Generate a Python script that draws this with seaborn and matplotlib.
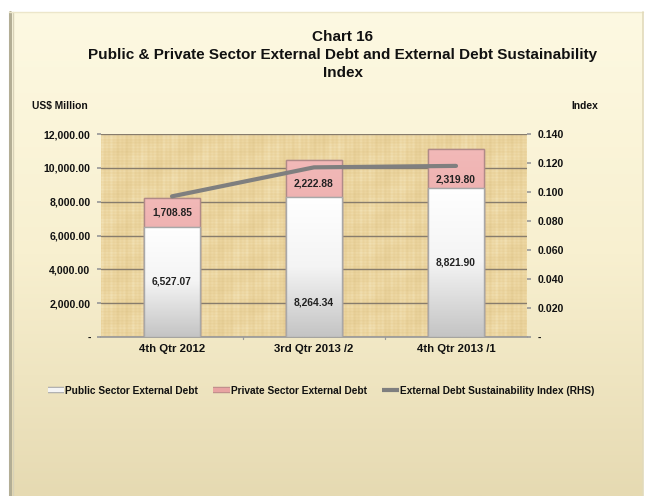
import numpy as np
import pandas as pd
import matplotlib
matplotlib.use("Agg")
import matplotlib.pyplot as plt
import matplotlib.patheffects as pe
from matplotlib.colors import LinearSegmentedColormap
from matplotlib.lines import Line2D
from matplotlib.ticker import FuncFormatter, FixedLocator
import seaborn as sns

# ---- data ----
quarters = ["4th Qtr 2012", "3rd Qtr 2013 /2", "4th Qtr 2013 /1"]
public_debt = [6527.07, 8264.34, 8821.90]
private_debt = [1708.85, 2222.88, 2319.80]
sustainability_index = [0.097, 0.117, 0.118]

# where each value label sits inside its segment (0 = bottom, 1 = top)
public_label_frac = [0.5, 0.245, 0.5]
private_label_frac = [0.5, 0.36, 0.2]

sns.set_theme(style="white")
plt.rcParams["font.family"] = ["Liberation Sans", "DejaVu Sans"]
plt.rcParams["font.weight"] = "bold"

df = pd.DataFrame({
    "quarter": quarters,
    "public": public_debt,
    "private": private_debt,
})
df["total"] = df["public"] + df["private"]

W, H = 651, 496
fig = plt.figure(figsize=(W / 100, H / 100), dpi=100)
fig.patch.set_facecolor("white")

# cream panel with vertical gradient
bg = fig.add_axes([0, 0, 1, 1], zorder=-10)
bg.set_xlim(0, W)
bg.set_ylim(H, 0)
bg.axis("off")
cream = LinearSegmentedColormap.from_list("cream", ["#FDF9E2", "#F8F0D0", "#E6DAB2"])
grad = np.linspace(0, 1, 256).reshape(-1, 1)
bg.imshow(grad, cmap=cream, extent=[9, 643, H, 12], aspect="auto", zorder=0)
bg.plot([9.5, 9.5], [12, H], color="#B3AE95", lw=2.2, zorder=1)
bg.plot([12.5, 12.5], [12, H], color="#D8D2B8", lw=1.0, zorder=1)
bg.plot([9, 643], [12, 12], color="#ECE6CA", lw=1.0, zorder=1)
bg.plot([642.5, 642.5], [12, H], color="#E2DABB", lw=1.2, zorder=1)

# plot area
ax = fig.add_axes([101 / W, 1 - 337 / H, (527 - 101) / W, (337 - 134) / H])
ax.set_facecolor("none")

# papyrus-like fibrous texture behind the bars
xx, yy = np.meshgrid(np.linspace(0, 1, 426), np.linspace(0, 1, 203))
weave = (0.30 * np.sin(xx * 2 * np.pi * 97) + 0.25 * np.sin(xx * 2 * np.pi * 41 + 1.3)
         + 0.20 * np.sin(xx * 2 * np.pi * 13 + 0.4)
         + 0.25 * np.sin(yy * 2 * np.pi * 67) + 0.20 * np.sin(yy * 2 * np.pi * 19 + 0.7)
         + 0.25 * np.sin(xx * 2 * np.pi * 7 + yy * 2 * np.pi * 5))
paper = LinearSegmentedColormap.from_list("paper", ["#E2C98F", "#EBD49E", "#F2E2B6"])
ax.imshow(weave, cmap=paper, extent=[0, 1, 0, 1], transform=ax.transAxes,
          aspect="auto", zorder=-5)

bar_w = 0.40
sns.barplot(data=df, x="quarter", y="total", color="#E8A3A2", width=bar_w,
            edgecolor="#B08A88", linewidth=0.9, saturation=1, ax=ax, zorder=3)
n_tot = len(ax.patches)
sns.barplot(data=df, x="quarter", y="public", color="#FFFFFF", width=bar_w,
            edgecolor="#A8A8A8", linewidth=0.9, saturation=1, ax=ax, zorder=4)

# gradient fills clipped to each bar
pink = LinearSegmentedColormap.from_list("pink", ["#F2B9B8", "#E29A99"])
silver = LinearSegmentedColormap.from_list("silver", ["#FFFFFF", "#F4F4F4", "#C4C4C4"])
for i, p in enumerate(list(ax.patches)):
    x0, y0 = p.get_x(), p.get_y()
    w, h = p.get_width(), p.get_height()
    cmap = pink if i < n_tot else silver
    im = ax.imshow(np.linspace(0, 1, 128).reshape(-1, 1), cmap=cmap,
                   extent=[x0, x0 + w, y0, y0 + h], aspect="auto",
                   zorder=p.get_zorder() + 0.1)
    im.set_clip_path(p)
    ax.add_patch(plt.Rectangle((x0, y0), w, h, fill=False, edgecolor=p.get_edgecolor(),
                               lw=1.0, zorder=p.get_zorder() + 0.2))

ax.set_xlim(-0.5, 2.5)
ax.set_ylim(0, 12000)
ax.yaxis.set_major_locator(FixedLocator(np.arange(0, 12001, 2000)))
ax.yaxis.set_major_formatter(FuncFormatter(lambda v, _: "-" if v == 0 else f"{v:,.2f}"))
ax.grid(axis="y", color="#877C6C", lw=1.0, zorder=1)
ax.set_axisbelow(True)
ax.set_xlabel("")
ax.set_ylabel("")
for s in ["top", "right", "left"]:
    ax.spines[s].set_visible(False)
ax.spines["bottom"].set_color("#9A9A9A")
ax.tick_params(axis="y", length=3, color="#9A9A9A", pad=4.5, labelsize=7.6)
ax.tick_params(axis="x", length=0, pad=5, labelsize=8.2)
for b in [0.5, 1.5]:
    ax.plot([b, b], [0, -90], color="#9A9A9A", lw=0.9, clip_on=False, zorder=2)
for lbl in ax.get_xticklabels() + ax.get_yticklabels():
    lbl.set_fontweight("bold")
    lbl.set_color("#111111")

# value labels inside each segment
for i in range(len(quarters)):
    ax.text(i, public_debt[i] * public_label_frac[i], f"{public_debt[i]:,.2f}",
            ha="center", va="center", fontsize=7.4, fontweight="bold",
            color="#222222", zorder=10)
    ax.text(i, public_debt[i] + private_debt[i] * private_label_frac[i],
            f"{private_debt[i]:,.2f}", ha="center", va="center", fontsize=7.4,
            fontweight="bold", color="#222222", zorder=10)

# sustainability index on the right axis
ax2 = ax.twinx()
ax2.set_ylim(0, 0.14)
sns.lineplot(x=[0, 1, 2], y=sustainability_index, color="#7F7F7F", lw=3.0,
             ax=ax2, zorder=6)
ax.set_zorder(1)
ax2.set_zorder(2)
ax2.patch.set_visible(False)
ax2.yaxis.set_major_locator(FixedLocator(np.arange(0, 0.1401, 0.02)))
ax2.yaxis.set_major_formatter(FuncFormatter(lambda v, _: "-" if abs(v) < 1e-9 else f"{v:.3f}"))
for s in ["top", "right", "left", "bottom"]:
    ax2.spines[s].set_visible(False)
ax2.tick_params(axis="y", length=3, color="#9A9A9A", pad=4.5, labelsize=7.6)
for lbl in ax2.get_yticklabels():
    lbl.set_fontweight("bold")
    lbl.set_color("#111111")
ax2.set_ylabel("")

# titles
title_kw = dict(ha="center", va="center", fontsize=11, fontweight="bold", color="#111111")
fig.text(343 / W, 1 - 37 / H, "Chart 16", **title_kw)
fig.text(343 / W, 1 - 55 / H,
         "Public & Private Sector External Debt and External Debt Sustainability",
         **title_kw)
fig.text(343 / W, 1 - 73 / H, "Index", **title_kw)
fig.text(32 / W, 1 - 106 / H, "US$ Million", ha="left", va="center",
         fontsize=7.4, fontweight="bold", color="#111111")
fig.text(598 / W, 1 - 106 / H, "Index", ha="right", va="center",
         fontsize=7.4, fontweight="bold", color="#111111")

# legend with outlined bar-style keys
def key(fill, outline, width=3.2):
    return Line2D([], [], color=fill, lw=width, solid_capstyle="butt",
                  path_effects=[pe.Stroke(linewidth=width + 1.4, foreground=outline),
                                pe.Normal()])

handles = [key("#F4F4F4", "#A0A0A0"), key("#E8A3A2", "#B88A88"),
           Line2D([], [], color="#7F7F7F", lw=3, solid_capstyle="butt")]
labels = ["Public Sector External Debt", "Private Sector External Debt",
          "External Debt Sustainability Index (RHS)"]
leg = fig.legend(handles, labels, loc="center", bbox_to_anchor=(321 / W, 1 - 391 / H),
                 ncol=3, frameon=False, fontsize=7.3, handlelength=1.6,
                 handletextpad=0.15, columnspacing=1.5)
for t in leg.get_texts():
    t.set_fontweight("bold")
    t.set_color("#111111")

fig.savefig("out.png", dpi=100)
